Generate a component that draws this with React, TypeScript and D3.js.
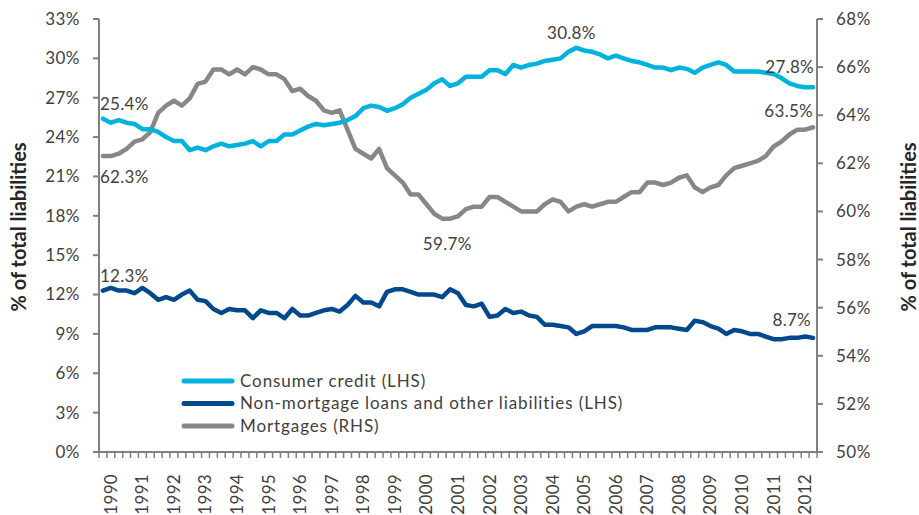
import * as d3 from 'd3'

// quarterly, Q4 1989 .. Q2 2012
const consumerCredit = [
  25.4, 25.1, 25.3, 25.1, 25.0, 24.6, 24.6, 24.4, 24.0, 23.7, 23.7, 23.0, 23.2, 23.0, 23.3, 23.5,
  23.3, 23.4, 23.5, 23.7, 23.3, 23.7, 23.7, 24.2, 24.2, 24.5, 24.8, 25.0, 24.9, 25.0, 25.1, 25.3,
  25.6, 26.2, 26.4, 26.3, 26.0, 26.2, 26.5, 27.0, 27.3, 27.6, 28.1, 28.4, 27.9, 28.1, 28.6, 28.6,
  28.6, 29.1, 29.1, 28.8, 29.5, 29.3, 29.5, 29.6, 29.8, 29.9, 30.0, 30.5, 30.8, 30.6, 30.5, 30.3,
  30.0, 30.2, 30.0, 29.8, 29.7, 29.5, 29.3, 29.3, 29.1, 29.3, 29.2, 28.9, 29.3, 29.5, 29.7, 29.5,
  29.0, 29.0, 29.0, 29.0, 28.9, 28.8, 28.5, 28.1, 27.9, 27.8, 27.8,
]
const nonMortgage = [
  12.3, 12.5, 12.3, 12.3, 12.1, 12.5, 12.1, 11.6, 11.8, 11.6, 12.0, 12.3, 11.6, 11.5, 10.9, 10.6,
  10.9, 10.8, 10.8, 10.2, 10.8, 10.6, 10.6, 10.2, 10.9, 10.4, 10.4, 10.6, 10.8, 10.9, 10.7, 11.2,
  11.9, 11.4, 11.4, 11.1, 12.2, 12.4, 12.4, 12.2, 12.0, 12.0, 12.0, 11.8, 12.4, 12.1, 11.2, 11.1,
  11.3, 10.3, 10.4, 10.9, 10.6, 10.7, 10.4, 10.3, 9.7, 9.7, 9.6, 9.5, 9.0, 9.2, 9.6, 9.6,
  9.6, 9.6, 9.5, 9.3, 9.3, 9.3, 9.5, 9.5, 9.5, 9.4, 9.3, 10.0, 9.9, 9.6, 9.4, 9.0,
  9.3, 9.2, 9.0, 9.0, 8.8, 8.6, 8.6, 8.7, 8.7, 8.8, 8.7,
]
const mortgages = [
  62.3, 62.3, 62.4, 62.6, 62.9, 63.0, 63.3, 64.1, 64.4, 64.6, 64.4, 64.7, 65.3, 65.4, 65.9, 65.9,
  65.7, 65.9, 65.7, 66.0, 65.9, 65.7, 65.7, 65.5, 65.0, 65.1, 64.8, 64.6, 64.2, 64.1, 64.2, 63.4,
  62.6, 62.4, 62.2, 62.6, 61.8, 61.5, 61.2, 60.7, 60.7, 60.3, 59.9, 59.7, 59.7, 59.8, 60.1, 60.2,
  60.2, 60.6, 60.6, 60.4, 60.2, 60.0, 60.0, 60.0, 60.3, 60.5, 60.4, 60.0, 60.2, 60.3, 60.2, 60.3,
  60.4, 60.4, 60.6, 60.8, 60.8, 61.2, 61.2, 61.1, 61.2, 61.4, 61.5, 61.0, 60.8, 61.0, 61.1, 61.5,
  61.8, 61.9, 62.0, 62.1, 62.3, 62.7, 62.9, 63.2, 63.4, 63.4, 63.5,
]
const years = [
  '1990', '1991', '1992', '1993', '1994', '1995', '1996', '1997', '1998', '1999', '2000', '2001',
  '2002', '2003', '2004', '2005', '2006', '2007', '2008', '2009', '2010', '2011', '2012',
]
const leftTicks = [0, 3, 6, 9, 12, 15, 18, 21, 24, 27, 30, 33]
const rightTicks = [50, 52, 54, 56, 58, 60, 62, 64, 66, 68]

const FONT = 'Lato, "Open Sans", sans-serif'
const TEXT = '#404040'
const AXIS = '#7f7f7f'
const C_CONS = '#00b3df'
const C_NONM = '#00498d'
const C_MORT = '#878787'

export default function App() {
  const W = 919
  const H = 515
  const left = 99
  const right = 817
  const top = 19
  const bottom = 452

  const idx = consumerCredit.map((_, i) => i)
  const x = d3.scaleBand<number>().domain(idx).range([left, right])
  const cx = (i: number) => (x(i) as number) + x.bandwidth() / 2
  const yL = d3.scaleLinear().domain([0, 33]).range([bottom, top])
  const yR = d3.scaleLinear().domain([50, 68]).range([bottom, top])

  const lineL = d3.line<number>().x((_, i) => cx(i)).y((d) => yL(d))
  const lineR = d3.line<number>().x((_, i) => cx(i)).y((d) => yR(d))

  const tickEdges = d3.range(idx.length + 1).map((i) => left + i * x.bandwidth())
  const last = idx.length - 1

  const legend = [
    { label: 'Consumer credit (LHS)', color: C_CONS },
    { label: 'Non-mortgage loans and other liabilities (LHS)', color: C_NONM },
    { label: 'Mortgages (RHS)', color: C_MORT },
  ]

  const ann = { fontSize: 17, fill: TEXT, letterSpacing: 0.3 }

  return (
    <svg
      width={W}
      height={H}
      style={{ position: 'absolute', left: 0, top: 0, background: '#fff' }}
      fontFamily={FONT}
    >
      {/* lines */}
      <path d={lineR(mortgages) ?? ''} fill="none" stroke={C_MORT} strokeWidth={4.5} strokeLinejoin="round" strokeLinecap="round" />
      <path d={lineL(nonMortgage) ?? ''} fill="none" stroke={C_NONM} strokeWidth={4.5} strokeLinejoin="round" strokeLinecap="round" />
      <path d={lineL(consumerCredit) ?? ''} fill="none" stroke={C_CONS} strokeWidth={4.5} strokeLinejoin="round" strokeLinecap="round" />

      {/* axes */}
      <g stroke={AXIS} strokeWidth={2}>
        <line x1={left} x2={left} y1={top} y2={bottom + 1} />
        <line x1={right} x2={right} y1={top} y2={bottom + 1} />
        <line x1={left} x2={right} y1={bottom} y2={bottom} />
        {leftTicks.map((t) => (
          <line key={'lt' + t} x1={left - 6} x2={left} y1={yL(t)} y2={yL(t)} />
        ))}
        {rightTicks.map((t) => (
          <line key={'rt' + t} x1={right} x2={right + 6} y1={yR(t)} y2={yR(t)} />
        ))}
      </g>
      <g stroke={AXIS} strokeWidth={1.5}>
        {tickEdges.map((tx, i) => (
          <line key={'xt' + i} x1={tx} x2={tx} y1={bottom} y2={bottom + 6} />
        ))}
      </g>

      {/* tick labels */}
      {leftTicks.map((t) => (
        <text key={'ll' + t} x={80} y={yL(t)} dy="0.35em" textAnchor="end" fontSize={17} fill={TEXT} letterSpacing={0.5}>
          {t}%
        </text>
      ))}
      {rightTicks.map((t) => (
        <text key={'rl' + t} x={836} y={yR(t)} dy="0.35em" textAnchor="start" fontSize={17} fill={TEXT} letterSpacing={0.5}>
          {t}%
        </text>
      ))}
      {years.map((yr, k) => (
        <text
          key={yr}
          transform={`translate(${cx(1 + 4 * k)},474) rotate(-90)`}
          dy="0.35em"
          textAnchor="end"
          fontSize={17}
          fill={TEXT}
          letterSpacing={0.3}
        >
          {yr}
        </text>
      ))}

      {/* axis titles */}
      <text transform="translate(19,227) rotate(-90)" dy="0.35em" textAnchor="middle" fontSize={20} fontWeight="bold" fill="#262626">
        % of total liabilities
      </text>
      <text transform="translate(909,227) rotate(-90)" dy="0.35em" textAnchor="middle" fontSize={20} fontWeight="bold" fill="#262626">
        % of total liabilities
      </text>

      {/* annotations */}
      <text x={cx(0) - 3} y={yL(consumerCredit[0]) - 9} {...ann}>{consumerCredit[0].toFixed(1)}%</text>
      <text x={cx(0) - 3} y={yR(mortgages[0]) + 27} {...ann}>{mortgages[0].toFixed(1)}%</text>
      <text x={cx(0) - 3} y={yL(nonMortgage[0]) - 9} {...ann}>{nonMortgage[0].toFixed(1)}%</text>
      <text x={cx(43) + 5} y={yR(59.7) + 31} textAnchor="middle" {...ann}>59.7%</text>
      <text x={cx(60) - 5} y={yL(30.8) - 9} textAnchor="middle" {...ann}>30.8%</text>
      <text x={cx(last) + 1} y={yL(consumerCredit[last]) - 14} textAnchor="end" {...ann}>{consumerCredit[last].toFixed(1)}%</text>
      <text x={cx(last)} y={yR(mortgages[last]) - 10} textAnchor="end" {...ann}>{mortgages[last].toFixed(1)}%</text>
      <text x={cx(last) - 2} y={yL(nonMortgage[last]) - 12} textAnchor="end" {...ann}>{nonMortgage[last].toFixed(1)}%</text>

      {/* legend */}
      {legend.map((l, k) => (
        <g key={l.label} transform={`translate(184,${381 + k * 22.5})`}>
          <line x1={0} x2={48} y1={0} y2={0} stroke={l.color} strokeWidth={5} strokeLinecap="round" />
          <text x={56} y={0} dy="0.35em" fontSize={17} fill={TEXT} letterSpacing={0.9}>
            {l.label}
          </text>
        </g>
      ))}
    </svg>
  )
}
